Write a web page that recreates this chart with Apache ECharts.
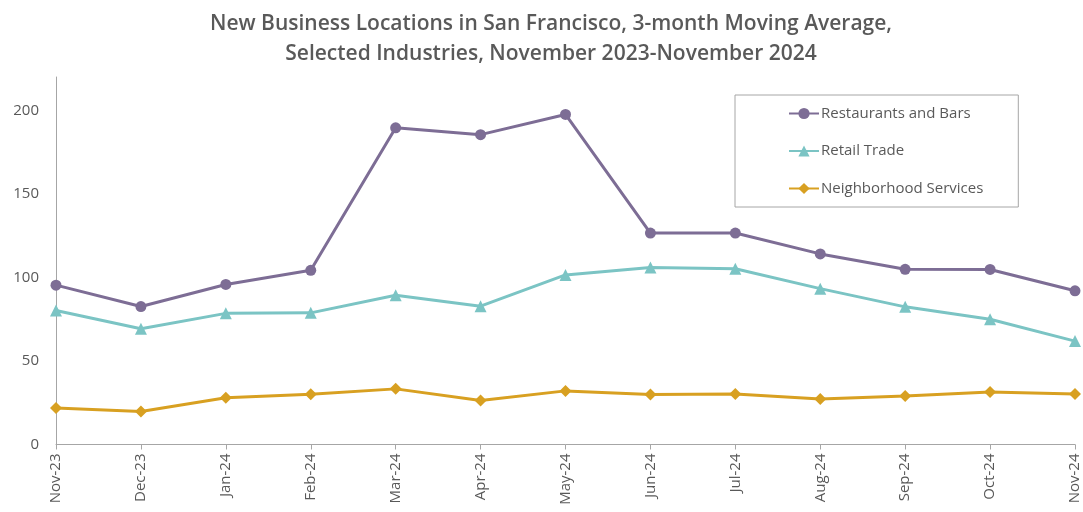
<!DOCTYPE html>
<html><head><meta charset="utf-8">
<script src="https://cdn.jsdelivr.net/npm/echarts@6/dist/echarts.min.js"></script>
<style>html,body{margin:0;padding:0;background:#fff}#c{width:1083px;height:512px}</style>
</head><body><div id="c"></div>
<script>
const categories = ['Nov-23','Dec-23','Jan-24','Feb-24','Mar-24','Apr-24','May-24','Jun-24','Jul-24','Aug-24','Sep-24','Oct-24','Nov-24'];
const restaurantsBars = [95.4, 82.6, 95.8, 104.3, 189.6, 185.5, 197.6, 126.6, 126.6, 114.1, 104.9, 104.8, 92];
const retailTrade = [80.2, 69.3, 78.5, 78.8, 89.3, 82.8, 101.5, 105.9, 105.2, 93.3, 82.4, 75, 61.9];
const neighborhoodServices = [21.8, 19.7, 28, 30.1, 33.3, 26.3, 32.1, 29.9, 30.2, 27.2, 29, 31.4, 30.3];
const yTicks = [0, 50, 100, 150, 200];

const font = '"Open Sans", "Noto Sans", sans-serif';
const chart = echarts.init(document.getElementById('c'), null, {renderer: 'canvas'});
chart.setOption({
  animation: false,
  textStyle: {fontFamily: font},
  title: {
    text: 'New Business Locations in San Francisco, 3-month Moving Average,\nSelected Industries, November 2023-November 2024',
    left: 551, textAlign: 'center', top: 9, padding: 0,
    textStyle: {fontFamily: font, fontSize: 21, fontWeight: 600, color: '#595959', lineHeight: 30}
  },
  legend: {
    orient: 'vertical', left: 735, top: 95,
    padding: [11, 35, 11, 53],
    itemGap: 22.5, itemWidth: 30, itemHeight: 14,
    borderColor: '#a6a6a6', borderWidth: 1,
    textStyle: {fontFamily: font, fontSize: 15, color: '#595959', padding: [0,0,0,-3]},
    data: ['Restaurants and Bars', 'Retail Trade', 'Neighborhood Services']
  },
  grid: {left: 56, right: 8, top: 77, bottom: 67.5},
  xAxis: {
    type: 'category', data: categories, boundaryGap: false,
    axisLine: {lineStyle: {color: '#a6a6a6', width: 1}},
    axisTick: {show: true, length: 5, lineStyle: {color: '#a6a6a6'}},
    axisLabel: {rotate: 90, fontSize: 15, color: '#595959', margin: 9, fontFamily: font}
  },
  yAxis: {
    type: 'value', min: 0, max: 220, interval: 50,
    axisLine: {show: true, lineStyle: {color: '#a6a6a6', width: 1}},
    axisTick: {show: false},
    splitLine: {show: false},
    axisLabel: {fontSize: 15, color: '#595959', margin: 17, fontFamily: font,
      formatter: v => yTicks.includes(v) ? String(v) : ''}
  },
  series: [
    {name: 'Restaurants and Bars', type: 'line', data: restaurantsBars,
      symbol: 'circle', symbolSize: 11, color: '#7d6d95',
      lineStyle: {width: 3}, itemStyle: {color: '#7d6d95'}},
    {name: 'Retail Trade', type: 'line', data: retailTrade,
      symbol: 'triangle', symbolSize: 12, color: '#7bc4c4',
      lineStyle: {width: 3}, itemStyle: {color: '#7bc4c4'}},
    {name: 'Neighborhood Services', type: 'line', data: neighborhoodServices,
      symbol: 'diamond', symbolSize: 12, color: '#d8a021',
      lineStyle: {width: 3}, itemStyle: {color: '#d8a021'}}
  ]
});
</script></body></html>
